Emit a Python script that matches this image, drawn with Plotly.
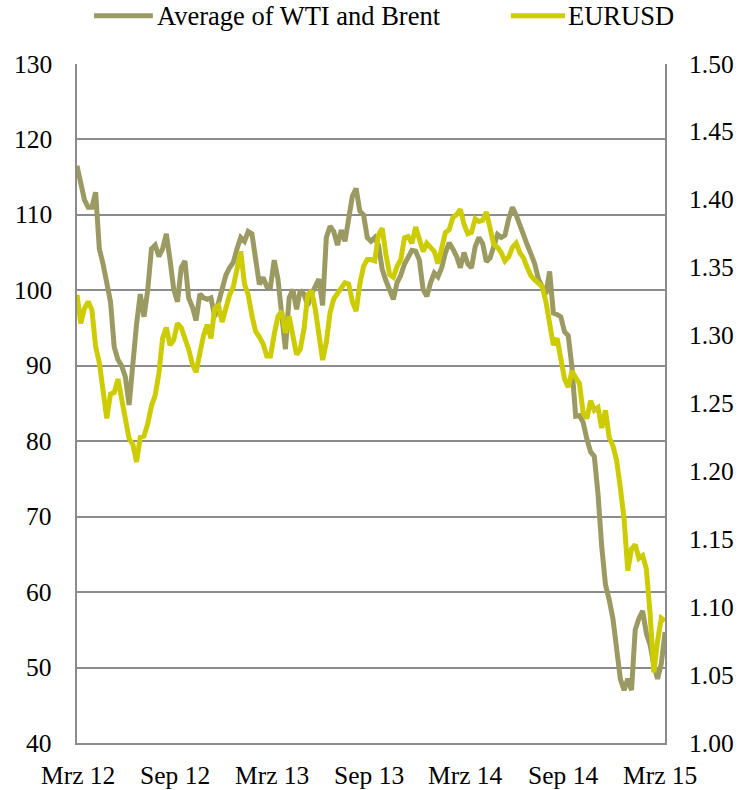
import pandas as pd
import plotly.graph_objects as go

# Weekly observation dates
dates = pd.date_range("2012-02-29", periods=159, freq="7D")

oil = [116.5, 114.5, 112, 111, 111, 113, 105.5, 103.5, 100.5, 98.5,
       92.5, 90.8, 90, 88.5, 84.8, 91, 95.5, 99.5, 96.5, 100,
       105.5, 106, 104.5, 105.5, 107.5, 104, 100.1, 98.5, 103, 103.9,
       99, 97.8, 96, 99.5, 99, 98.8, 99, 96.5, 98.5, 100,
       102, 103, 103.7, 105.5, 107, 106.5, 107.8, 107.5, 104, 100.8,
       101.7, 100.5, 100.5, 104, 101.5, 96, 92.2, 99, 100.1, 97.5,
       100, 99.5, 98, 99.5, 100.5, 101.5, 98, 107, 108.5, 107.8,
       106, 108, 106.5, 109.2, 112.5, 113.5, 110.5, 110, 107, 106.5,
       107, 106, 102.8, 101.3, 99.8, 98.8, 101, 102, 103.5, 104.3,
       105.3, 105.2, 104, 100.1, 99.2, 101, 102.3, 101.8, 103, 105,
       106.3, 105.5, 104.5, 103, 105, 103.5, 103, 105.8, 107, 106.2,
       103.8, 104.3, 105.8, 107.4, 107, 107.3, 109.5, 111, 110, 108.5,
       107.3, 106, 104.8, 103.5, 101.5, 100.3, 99.5, 102.5, 97, 96.8,
       96.5, 94.5, 94, 89.8, 83.3, 83.4, 82.5, 80.3, 78.6, 78,
       73, 66, 61, 59, 56.5, 52.5, 48.5, 47, 48.5, 47,
       55, 56.5, 57.5, 54.5, 53, 50.3, 48.5, 50.5, 54.7]

eurusd = [1.330, 1.309, 1.320, 1.325, 1.319, 1.292, 1.280, 1.258, 1.239, 1.257,
          1.258, 1.268, 1.252, 1.235, 1.224, 1.220, 1.207, 1.225, 1.226, 1.235,
          1.248, 1.256, 1.272, 1.298, 1.306, 1.293, 1.297, 1.309, 1.306, 1.298,
          1.290, 1.279, 1.273, 1.287, 1.300, 1.308, 1.298, 1.320, 1.322, 1.310,
          1.322, 1.330, 1.336, 1.350, 1.362, 1.338, 1.330, 1.315, 1.303, 1.299,
          1.294, 1.285, 1.285, 1.301, 1.314, 1.318, 1.302, 1.314, 1.301, 1.286,
          1.290, 1.305, 1.330, 1.333, 1.320, 1.303, 1.282, 1.295, 1.317, 1.327,
          1.331, 1.335, 1.339, 1.338, 1.325, 1.318, 1.338, 1.351, 1.356, 1.356,
          1.355, 1.374, 1.379, 1.360, 1.345, 1.343, 1.351, 1.356, 1.372, 1.373,
          1.368, 1.380, 1.372, 1.362, 1.368, 1.365, 1.362, 1.353, 1.366, 1.376,
          1.378, 1.387, 1.389, 1.393, 1.382, 1.375, 1.376, 1.386, 1.384, 1.385,
          1.391, 1.378, 1.367, 1.365, 1.361, 1.355, 1.358, 1.365, 1.368, 1.361,
          1.357, 1.350, 1.344, 1.341, 1.338, 1.336, 1.325, 1.310, 1.293, 1.298,
          1.281, 1.268, 1.262, 1.274, 1.269, 1.265, 1.243, 1.239, 1.252, 1.245,
          1.247, 1.232, 1.245, 1.225, 1.219, 1.208, 1.188, 1.165, 1.127, 1.143,
          1.146, 1.136, 1.138, 1.128, 1.095, 1.052, 1.075, 1.092, 1.090]

tick_dates = ["2012-03-01", "2012-09-01", "2013-03-01", "2013-09-01",
              "2014-03-01", "2014-09-01", "2015-03-01"]
tick_labels = ["Mrz 12", "Sep 12", "Mrz 13", "Sep 13", "Mrz 14", "Sep 14", "Mrz 15"]

left_ticks = [40, 50, 60, 70, 80, 90, 100, 110, 120, 130]
right_ticks = [1.00, 1.05, 1.10, 1.15, 1.20, 1.25, 1.30, 1.35, 1.40, 1.45, 1.50]

series_names = ["Average of WTI and Brent", "EURUSD"]
OIL_C = "#9a9a62"
EUR_C = "#cccc00"
GRID = "#8c8c8c"
FONT = "'Liberation Serif', 'Times New Roman', serif"
FS = 25.5

fig = go.Figure()
fig.add_trace(go.Scatter(x=dates, y=oil, mode="lines", name=series_names[0],
                         line=dict(color=OIL_C, width=5), yaxis="y", showlegend=False))
fig.add_trace(go.Scatter(x=dates, y=eurusd, mode="lines", name=series_names[1],
                         line=dict(color=EUR_C, width=5), yaxis="y2", showlegend=False))

shapes = []
annotations = []

# manual legend (line samples + text)
leg = [(0.029, 0.129, 0.132, OIL_C, series_names[0]),
       (0.738, 0.830, 0.832, EUR_C, series_names[1])]
for x0, x1, xt, col, name in leg:
    shapes.append(dict(type="line", xref="paper", yref="paper", x0=x0, x1=x1,
                       y0=1.071, y1=1.071, line=dict(color=col, width=5)))
    annotations.append(dict(xref="paper", yref="paper", x=xt, y=1.071, text=name,
                            showarrow=False, xanchor="left", yanchor="middle",
                            font=dict(family=FONT, size=26.5, color="black")))

tfont = dict(family=FONT, size=FS, color="black")
# axis tick labels placed as text next to the axes
for v in left_ticks:
    annotations.append(dict(xref="paper", x=0, xshift=-23, xanchor="right",
                            yref="y", y=v, yanchor="middle", text=str(v),
                            showarrow=False, font=tfont))
for v in right_ticks:
    annotations.append(dict(xref="paper", x=1, xshift=22, xanchor="left",
                            yref="y2", y=v, yanchor="middle", text=f"{v:.2f}",
                            showarrow=False, font=tfont))
for d, t in zip(tick_dates, tick_labels):
    annotations.append(dict(xref="x", x=d, xanchor="center",
                            yref="paper", y=0, yshift=-32, yanchor="middle",
                            text=t, showarrow=False, font=tfont))

fig.update_layout(
    width=738, height=790,
    margin=dict(l=77, r=73, t=64, b=47),
    paper_bgcolor="white", plot_bgcolor="white",
    font=dict(family=FONT, size=FS, color="black"),
    shapes=shapes, annotations=annotations,
    xaxis=dict(type="date", range=["2012-02-29", "2015-03-11"],
               tickvals=tick_dates, showticklabels=False, automargin=False,
               showgrid=False, zeroline=False, ticks="",
               showline=True, linecolor=GRID, linewidth=2),
    yaxis=dict(range=[40, 130], tickvals=left_ticks, showticklabels=False,
               automargin=False, ticks="",
               showgrid=True, gridcolor=GRID, gridwidth=2, zeroline=False,
               showline=True, linecolor=GRID, linewidth=2),
    yaxis2=dict(range=[1.0, 1.5], tickvals=right_ticks, showticklabels=False,
                automargin=False, ticks="",
                overlaying="y", side="right", showgrid=False, zeroline=False,
                showline=True, linecolor=GRID, linewidth=2),
)

fig.write_html("out.html")
